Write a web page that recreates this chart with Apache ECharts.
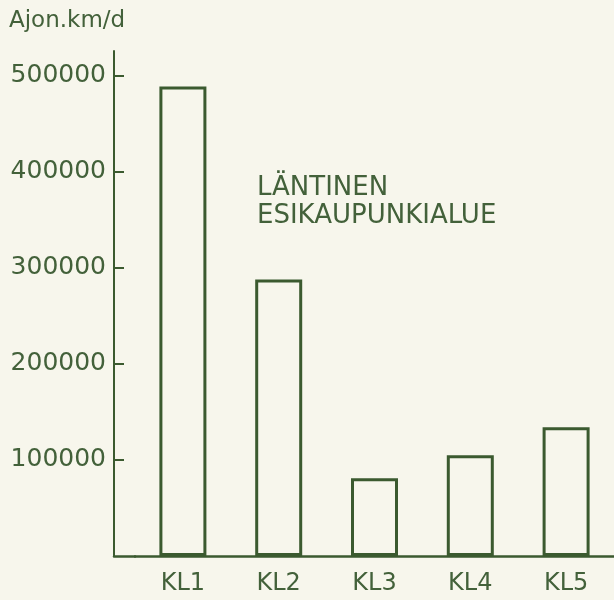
<!DOCTYPE html>
<html>
<head>
<meta charset="utf-8">
<script src="https://cdn.jsdelivr.net/npm/echarts@6.0.0/dist/echarts.min.js"></script>
<style>
  html, body { margin: 0; padding: 0; background: #f7f6ec; }
  #chart { width: 614px; height: 600px; }
</style>
</head>
<body>
<div id="chart"></div>
<script>
// Data
const categories = ['KL1', 'KL2', 'KL3', 'KL4', 'KL5'];
const vehicleKm = [489000, 288000, 81000, 105000, 134000];
const yTickValues = [100000, 200000, 300000, 400000, 500000];
const yUnit = 'Ajon.km/d';
const areaLabel = 'LÄNTINEN\nESIKAUPUNKIALUE';

const INK = '#3b5a2f';
const TEXT = '#43613a';
const BG = '#f7f6ec';
const FONT = '"DejaVu Sans", sans-serif';

const chart = echarts.init(document.getElementById('chart'), null, { renderer: 'canvas' });
chart.setOption({
  backgroundColor: BG,
  animation: false,
  textStyle: { fontFamily: FONT },
  title: [
    {
      text: yUnit, left: 9, top: 10, padding: 0,
      textStyle: { fontFamily: FONT, fontSize: 23, fontWeight: 'normal', color: TEXT }
    },
    {
      text: areaLabel, left: 257, top: 174, padding: 0,
      textStyle: { fontFamily: FONT, fontSize: 26, fontWeight: 'normal', color: TEXT, lineHeight: 28 }
    }
  ],
  grid: [
    { left: 135, top: 51, width: 485.5, bottom: 44, containLabel: false },
    { left: 114, top: 51, width: 21, bottom: 44, containLabel: false }
  ],
  xAxis: [
    {
      type: 'category', gridIndex: 0, data: categories,
      axisLine: { show: true, lineStyle: { color: INK, width: 2.5 } },
      axisTick: { show: false },
      axisLabel: { color: TEXT, fontSize: 24, fontFamily: FONT, margin: 16 },
      splitLine: { show: false }
    },
    {
      type: 'value', gridIndex: 1, min: 0, max: 1,
      axisLine: { show: true, lineStyle: { color: INK, width: 2.5 } },
      axisTick: { show: false }, axisLabel: { show: false }, splitLine: { show: false }
    }
  ],
  yAxis: [
    {
      type: 'value', gridIndex: 0, min: 0, max: 526000, offset: 21,
      axisLine: { show: true, lineStyle: { color: INK, width: 2 } },
      axisTick: { show: true, inside: true, length: 10, customValues: yTickValues, lineStyle: { color: INK, width: 2 } },
      axisLabel: {
        color: TEXT, fontSize: 25, fontFamily: FONT, margin: 8, customValues: yTickValues,
        formatter: function (v) { return String(v); }
      },
      splitLine: { show: false }
    },
    {
      type: 'value', gridIndex: 1, min: 0, max: 1, show: false
    }
  ],
  series: [
    {
      type: 'bar', xAxisIndex: 0, yAxisIndex: 0,
      data: vehicleKm, barWidth: 47,
      itemStyle: { color: BG, borderColor: INK, borderWidth: 3 }
    }
  ]
});
</script>
</body>
</html>
